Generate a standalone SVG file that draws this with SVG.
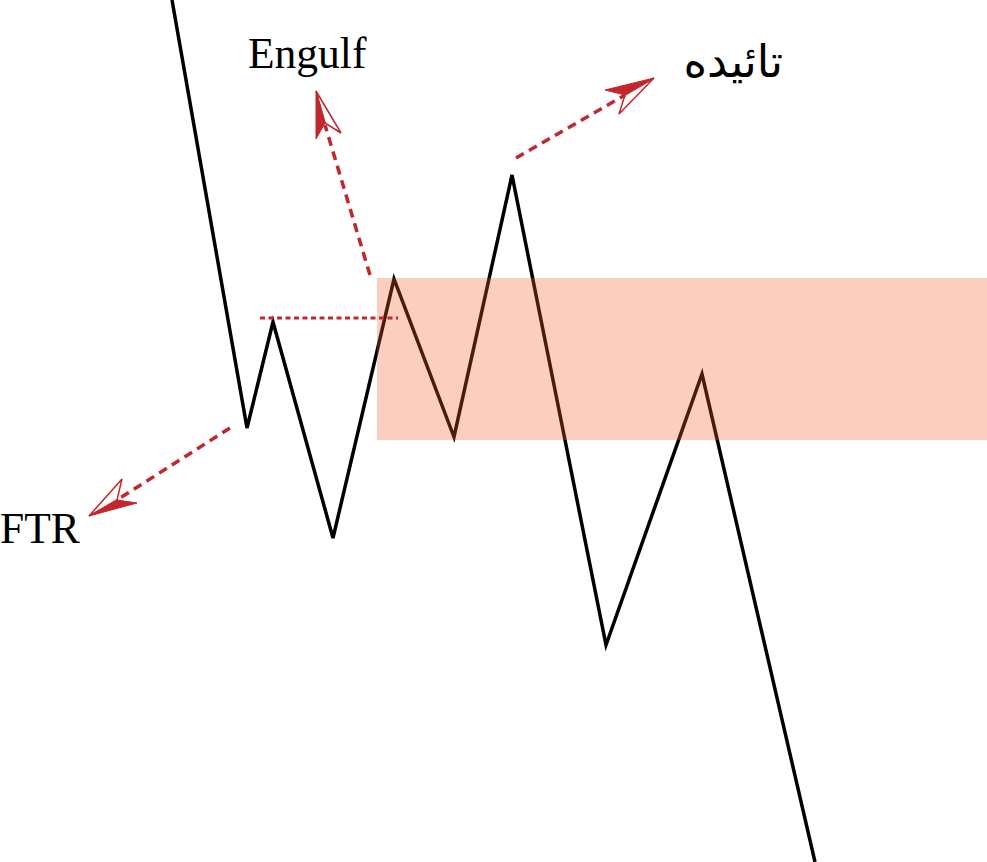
<svg xmlns="http://www.w3.org/2000/svg" width="987" height="862" viewBox="0 0 987 862">
<style>
.price{fill:none;stroke:#000;stroke-width:3.5;stroke-linejoin:miter}
.dash{fill:none;stroke:#c1272d;stroke-width:3.5;stroke-dasharray:9 6}
.dot{fill:none;stroke:#c1272d;stroke-width:3;stroke-dasharray:5 3.5}
.headfill{fill:#c1272d;stroke:#c1272d;stroke-width:1}
.headline{fill:none;stroke:#c1272d;stroke-width:1.5;stroke-linejoin:miter}
.lbl{font-family:"Liberation Serif","DejaVu Serif",serif;font-size:43.5px;fill:#000}
.ar{font-family:"DejaVu Sans","Noto Sans",sans-serif;font-size:45px;fill:#000}
</style>
<rect width="987" height="862" fill="#fff"/>
<g id="price">
<polyline class="price" points="172,0 247,428 273,322 333,538 394,279 454,437 512,175 606,645 702,374 815,862"/>
</g>
<g id="zone">
<rect x="377" y="278" width="610" height="162" fill="rgb(238,95,45)" fill-opacity="0.3"/>
</g>
<g id="connectors">
<line class="dot" x1="260" y1="318" x2="398" y2="318"/>
<line class="dash" x1="370" y1="275" x2="325" y2="125"/>
<line class="dash" x1="516" y1="158" x2="625" y2="95"/>
<line class="dash" x1="230" y1="428" x2="117" y2="500"/>
<polygon class="headfill" points="316,91 316,139 325,123"/>
<polygon class="headline" points="316,91 325,123 341,133"/>
<polygon class="headfill" points="654,78 605,90 625,95"/>
<polygon class="headline" points="654,78 625,95 619,114"/>
<polygon class="headfill" points="89,516 137,503 117,500"/>
<polygon class="headline" points="89,516 117,500 122,479"/>
</g>
<g id="label-engulf"><text class="lbl" x="248" y="68">Engulf</text></g>
<g id="label-ftr"><text class="lbl" x="0" y="543">FTR</text></g>
<g id="label-confirm"><text class="ar" x="783" y="77" direction="rtl" text-anchor="start">تائیده</text></g>
</svg>
